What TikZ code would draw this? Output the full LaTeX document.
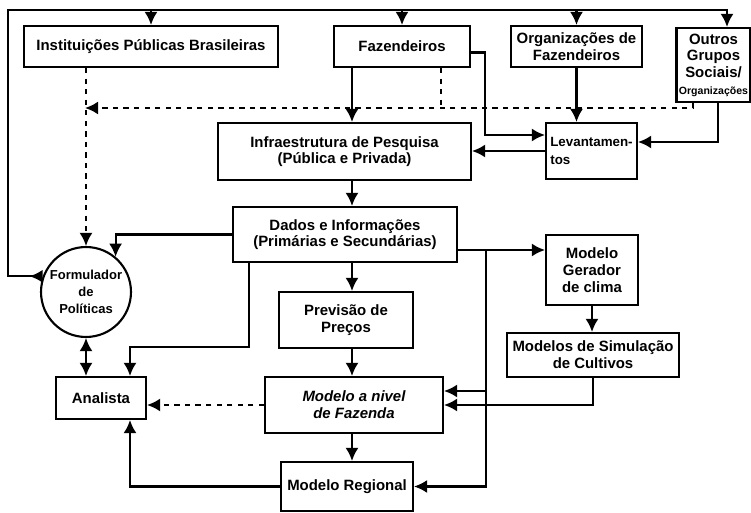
\documentclass[tikz,border=0pt]{standalone}
\usepackage{fontspec}
\setmainfont{Liberation Sans}
\usepackage{tikz}
\usetikzlibrary{arrows.meta}
\tikzstyle{box}=[rectangle,draw=black,line width=1.2pt,align=center,font=\fontsize{8.5}{9.5}\selectfont\bfseries]
\tikzstyle{vertex}=[circle,draw=black,line width=1.2pt,align=center,inner sep=-6pt,font=\fontsize{7.4}{9.5}\selectfont\bfseries]
\tikzstyle{link} = [draw,line width=1.2pt]
\tikzstyle{lo} = [link,dashed]

\begin{document}
\begin{tikzpicture}[x=0.02cm,y=-0.02cm,>={Latex[length=7.5pt,width=7.5pt]}]
  \useasboundingbox (0,0) rectangle (751,513);

  % top row
  \node[box,minimum width=5.08cm,minimum height=0.82cm] (inst) at (151,46.5) {Instituições Públicas Brasileiras};
  \node[box,minimum width=2.72cm,minimum height=0.82cm] (faz) at (402,46.5) {Fazendeiros};
  \node[box,minimum width=2.42cm,minimum height=0.82cm] (org) at (576.5,46.5) {Organizações de\\Fazendeiros};
  \node[box,minimum width=1.48cm,minimum height=1.48cm,inner sep=1pt] (outros) at (713.5,65) {Outros\\Grupos\\Sociais/\\{\fontsize{6}{7}\selectfont Organizações}};

  \node[box,minimum width=5.06cm,minimum height=1.14cm] (infra) at (344.5,151.5) {Infraestrutura de Pesquisa\\(Pública e Privada)};
  \node[box,minimum width=1.82cm,minimum height=1.12cm,align=left,inner sep=1pt,font=\fontsize{7.6}{10}\selectfont\bfseries] (lev) at (591.5,151) {Levantamen-\\tos\hspace*{12mm}};
  \node[box,minimum width=4.48cm,minimum height=1.10cm] (dados) at (345,234.5) {Dados e Informações\\(Primárias e Secundárias)};
  \node[box,minimum width=1.84cm,minimum height=1.40cm] (gerador) at (592,270) {Modelo\\Gerador\\de clima};

  \node[vertex,minimum size=1.8cm] (form) at (86,292) {Formulador\\de\\Políticas};
  \node[box,minimum width=2.68cm,minimum height=1.12cm] (prev) at (346,320) {Previsão de\\Preços};
  \node[box,minimum width=3.04cm,minimum height=0.88cm] (sim) at (593,355) {Modelos de Simulação\\de Cultivos};
  \node[box,minimum width=1.80cm,minimum height=0.84cm] (analista) at (101,398) {Analista};
  \node[box,minimum width=3.56cm,minimum height=1.12cm,font=\fontsize{8.5}{9.5}\selectfont\bfseries\itshape] (modfaz) at (354,405) {Modelo a nivel\\de Fazenda};
  \node[box,minimum width=2.64cm,minimum height=0.98cm] (regional) at (347,486.5) {Modelo Regional};

  % corners of the lines
  \coordinate (tl) at (8,10);
  \coordinate (tr) at (727,10);
  \coordinate (spine) at (352,0);
  \coordinate (d1) at (85,108);
  \coordinate (d2) at (441,108);
  \coordinate (d3) at (693,108);
  \coordinate (c1) at (485,135);
  \coordinate (c2) at (718,142);
  \coordinate (c3) at (486,250);
  \coordinate (c4) at (486,391);
  \coordinate (c5) at (249,347);
  \coordinate (c6) at (130,347);

  % policy maker back to the top
  \draw[link,{Latex[reversed,length=7.5pt,width=7.5pt]}->] (form.160) -| (tl) -| (outros.north -| tr);
  \draw[link,->] (inst.north |- tl) -- (inst.north);
  \draw[link,->] (faz.north |- tl) -- (faz.north);
  \draw[link,->] (org.north |- tl) -- (org.north);

  % dashed feedback
  \draw[lo,->] (inst.south -| form.north) -- (form.north);
  \draw[lo,->] (outros.south -| d3) -- (d3) -- (d1);
  \draw[lo] (faz.south -| d2) -- (d2);

  \draw[link,->] (faz.south -| spine) -- (infra.north -| spine);
  \draw[link,->] ([yshift=-0.12cm]faz.east) -| (c1) -- (c1 -| lev.west);
  \draw[link,->] (org.south) -- (org.south |- lev.north);
  \draw[link,->] (outros.south -| c2) -- (c2) -- (c2 -| lev.east);
  \draw[link,->] (lev.west) -- (lev.west -| infra.east);
  \draw[link,->] (infra.south -| spine) -- (dados.north -| spine);

  \draw[link,->] (dados.west) -| (form.50);
  \draw[link,->] (c3 -| dados.east) -- (c3 -| gerador.west);
  \draw[link,->] (c3) |- (regional.east);
  \draw[link,->] (c4) -- (c4 -| modfaz.east);
  \draw[link,->] (dados.south -| c5) -- (c5) -- (c6) -- (c6 |- analista.north);
  \draw[link,->] (dados.south -| spine) -- (prev.north -| spine);

  \draw[link,<->] (form.south) -- (analista.north -| form.south);
  \draw[link,->] (prev.south -| spine) -- (modfaz.north -| spine);
  \draw[link,->] (gerador.south) -- (gerador.south |- sim.north);
  \draw[link,->] (sim.south) |- (modfaz.east);
  \draw[lo,->] (modfaz.west) -- (modfaz.west -| analista.east);
  \draw[link,->] (modfaz.south -| spine) -- (regional.north -| spine);
  \draw[link,->] (regional.west) -| (analista.south -| c6);

\end{tikzpicture}
\end{document}
